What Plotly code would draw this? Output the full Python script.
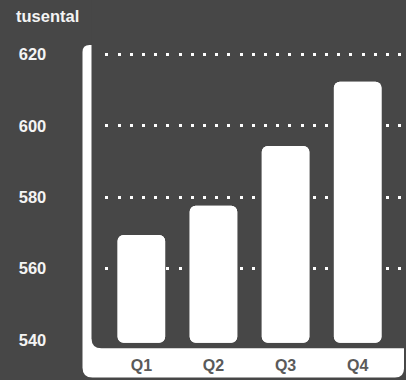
import plotly.graph_objects as go

categories = ["Q1", "Q2", "Q3", "Q4"]
values = [569.4, 577.6, 594.4, 612.4]
bar_base = 539.2
y_ticks = [540, 560, 580, 600, 620]
grid_ticks = [560, 580, 600, 620]
unit_label = "tusental"

W, H = 406, 380
BG = "#474747"

def px(x):
    return x / W

def py(y):
    return 1 - y / H

def rounded_path(l, t, r, b, tl=0, tr=0, br=0, bl=0):
    pts = []
    pts.append(f"M {px(l)},{py(t + tl)}")
    if tl:
        pts.append(f"Q {px(l)},{py(t)} {px(l + tl)},{py(t)}")
    pts.append(f"L {px(r - tr)},{py(t)}")
    if tr:
        pts.append(f"Q {px(r)},{py(t)} {px(r)},{py(t + tr)}")
    pts.append(f"L {px(r)},{py(b - br)}")
    if br:
        pts.append(f"Q {px(r)},{py(b)} {px(r - br)},{py(b)}")
    pts.append(f"L {px(l + bl)},{py(b)}")
    if bl:
        pts.append(f"Q {px(l)},{py(b)} {px(l)},{py(b - bl)}")
    pts.append("Z")
    return " ".join(pts)

fig = go.Figure()

# upper part of each bar (rounded top)
fig.add_trace(go.Bar(
    x=categories, y=[v - bar_base for v in values], base=[bar_base] * len(values),
    marker=dict(color="#ffffff", cornerradius=6, line=dict(width=0)),
    width=0.66, hoverinfo="skip", showlegend=False, yaxis="y",
))
# lower part of each bar (rounded bottom)
fig.add_trace(go.Bar(
    x=categories, y=[bar_base - v for v in values], base=values,
    marker=dict(color="#ffffff", cornerradius=6, line=dict(width=0)),
    width=0.66, hoverinfo="skip", showlegend=False, yaxis="y2",
))

y_range = [537.64, 622.72]
y_domain = [1 - 348.3 / H, 1 - 45 / H]

fig.update_layout(
    width=W, height=H, autosize=False,
    margin=dict(l=0, r=0, t=0, b=0, pad=0),
    paper_bgcolor=BG, plot_bgcolor="rgba(0,0,0,0)",
    barmode="overlay",
    font=dict(family="Liberation Sans, Arial, sans-serif"),
    xaxis=dict(
        domain=[105.3 / W, 1], range=[-0.5, 3.67],
        showgrid=False, zeroline=False, showline=False, ticks="",
        tickfont=dict(size=16, color="#5a5a5a", weight="bold"),
        ticklabelstandoff=6,
    ),
    yaxis=dict(
        domain=y_domain, range=y_range,
        tickmode="array", tickvals=y_ticks, ticktext=[str(v) for v in y_ticks],
        showgrid=False, zeroline=False, showline=False, ticks="",
        tickfont=dict(size=16.5, color="#f4f4f4", weight="bold"),
        ticklabelstandoff=58,
    ),
    yaxis2=dict(
        overlaying="y", side="left", range=y_range,
        tickmode="array", tickvals=grid_ticks,
        showticklabels=False, showgrid=True, gridcolor="#ffffff",
        gridwidth=3, griddash="3px,9.2px", zeroline=False, showline=False, ticks="",
    ),
    shapes=[
        dict(type="path", xref="paper", yref="paper", layer="below",
             path=rounded_path(82.5, 45, 404, 377.5, tl=7, tr=0, br=9, bl=10),
             fillcolor="#ffffff", line=dict(width=0)),
        dict(type="path", xref="paper", yref="paper", layer="below",
             path=rounded_path(91.5, -20, 430, 348.3, bl=10),
             fillcolor=BG, line=dict(width=0)),
    ],
    annotations=[
        dict(text=unit_label, xref="paper", yref="paper", x=px(14), y=py(16),
             xanchor="left", yanchor="middle", showarrow=False,
             font=dict(size=16.5, color="#f4f4f4", weight="bold")),
    ],
)

fig.write_html("out.html")
